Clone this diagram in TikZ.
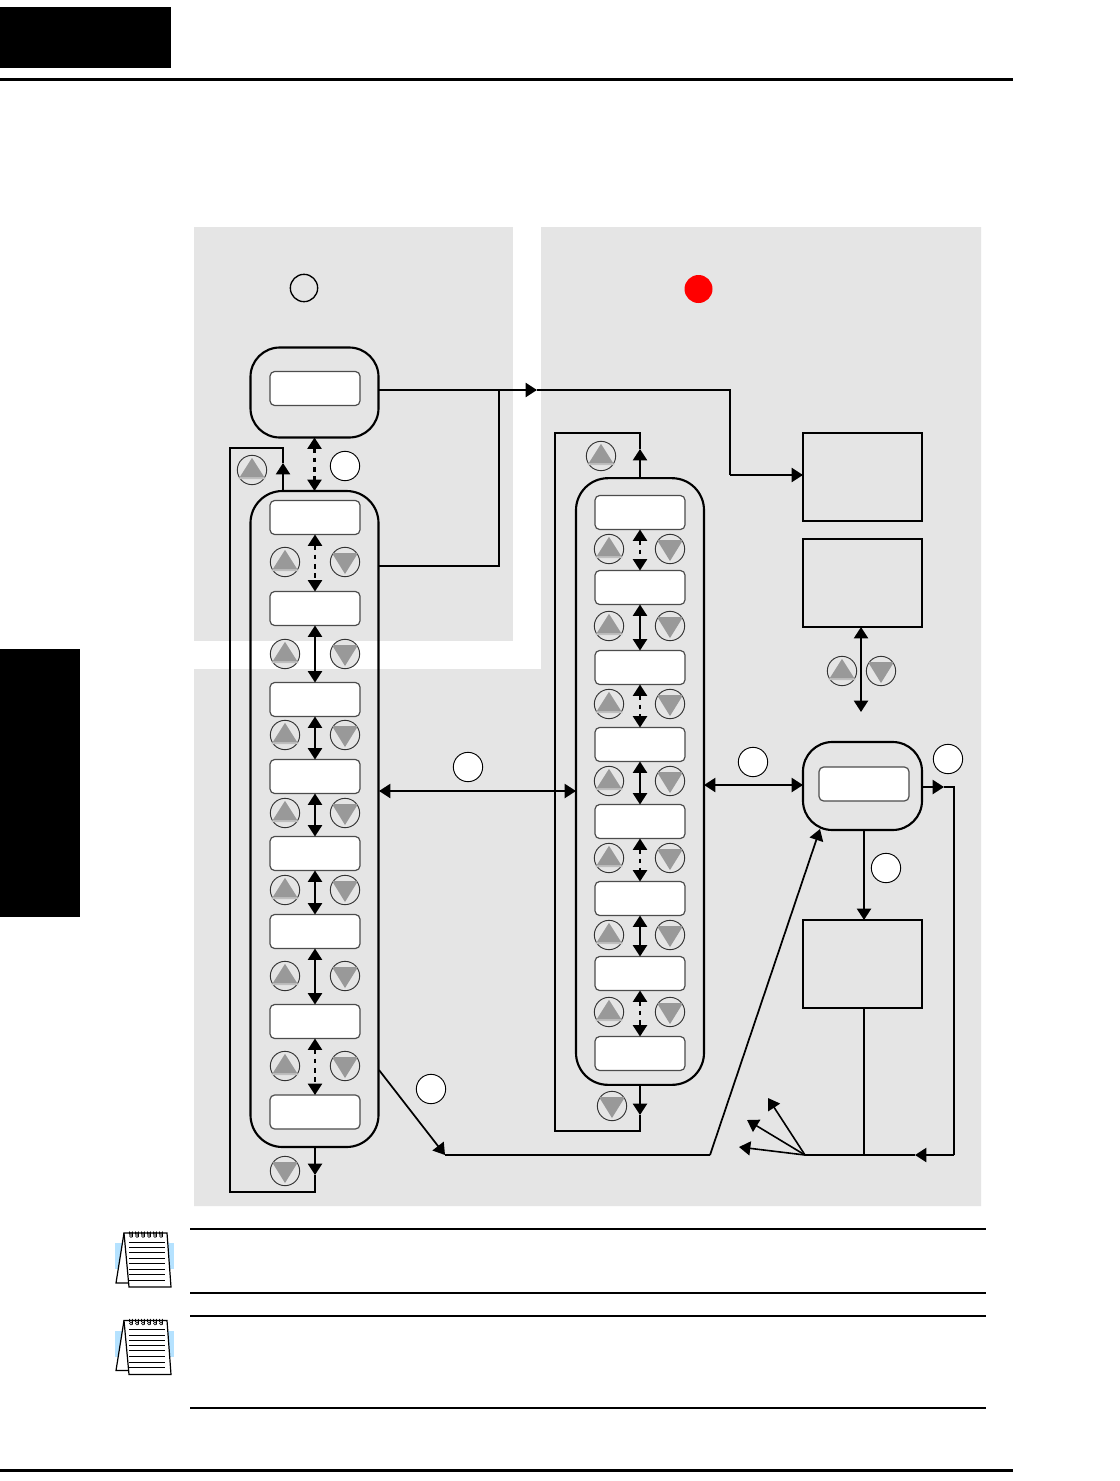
\documentclass[tikz,border=0pt]{standalone}
\usetikzlibrary{arrows.meta,calc}
\definecolor{panelgray}{HTML}{E5E5E5}
\definecolor{trigray}{HTML}{999999}
\definecolor{noteblue}{HTML}{B5E2FF}
\tikzset{
  x=0.75pt,y=-0.75pt,
  ln/.style={line width=1.6pt,line cap=butt,line join=miter},
  tip/.style={ln,-{Triangle[length=8.5pt,width=10.5pt]}},
  dbl/.style={ln,{Triangle[length=8.5pt,width=10.5pt]}-{Triangle[length=8.5pt,width=10.5pt]}},
  dbldash/.style={dbl,dash pattern=on 3.5pt off 3.5pt},
  disp/.style={draw=black!70,line width=0.9pt,fill=white,rounded corners=3.5pt,minimum width=67.5pt,minimum height=25.5pt,inner sep=0pt,outer sep=0pt},
  unitbox/.style={draw=black,line width=1.6pt,rounded corners=22pt,minimum width=96pt,minimum height=67.5pt,inner sep=0pt,outer sep=0pt},
  listbox/.style={draw=black,line width=1.6pt,rounded corners=24pt,minimum width=96pt,inner sep=0pt,outer sep=0pt},
  plainbox/.style={draw=black,line width=1.6pt,minimum width=89.25pt,minimum height=66pt,inner sep=0pt,outer sep=0pt},
  btn/.style={circle,draw=black!80,line width=0.7pt,fill=panelgray,minimum size=22pt,inner sep=0pt,outer sep=0pt},
  tag/.style={circle,draw=black,line width=0.7pt,fill=white,minimum size=22pt,inner sep=0pt,outer sep=0pt},
  notepage/.pic={
    \fill[noteblue] (115,1243) rectangle (174,1269);
    \fill[white] (127,1233) rectangle (168,1287);
    \draw[line width=0.9pt,fill=white] (124,1233) -- (116,1283) -- (129,1283);
    \draw[line width=0.9pt,fill=white] (124,1233) -- (167,1233) -- (171,1287) -- (129,1287) -- cycle;
    \foreach \yy in {1242,1247.5,1252.5,1258,1263,1269,1274.5,1280}
      \draw[line width=0.6pt] (129,\yy) -- (165,\yy);
    \foreach \xx in {131,137,143,149,155,161}{
      \draw[line width=0.5pt] (\xx,1236) circle[radius=1.5];
      \draw[line width=0.5pt] (\xx+1.5,1237) -- (\xx+1.5,1232) arc[start angle=0,end angle=180,radius=1.5] -- (\xx-1.5,1234.5);
    }
  }
}
\newcommand{\upbtn}[3]{%
  \node[btn] (#1) at (#2,#3) {};
  \fill[black!25] ($(#2,#3)+(0,-12)$) -- ($(#2,#3)+(-13.5,9)$) -- ($(#2,#3)+(13.5,9)$) -- cycle;
  \fill[trigray] ($(#2,#3)+(0,-12)$) -- ($(#2,#3)+(-12,7)$) -- ($(#2,#3)+(12,7)$) -- cycle;
}
\newcommand{\dnbtn}[3]{%
  \node[btn] (#1) at (#2,#3) {};
  \fill[trigray] ($(#2,#3)+(0,12)$) -- ($(#2,#3)+(-13,-9)$) -- ($(#2,#3)+(13,-9)$) -- cycle;
}
\begin{document}
\begin{tikzpicture}
\useasboundingbox (0,0) rectangle (1120,1481);
\fill[white] (0,0) rectangle (1120,1481);
% page furniture
\fill[black] (0,7) rectangle (171,68);
\fill[black] (0,649) rectangle (80,917);
\draw[line width=2.2pt] (0,79.5) -- (1013,79.5);
\draw[line width=2.2pt] (0,1470.5) -- (1013,1470.5);
% grey regions
\fill[panelgray] (194,227) rectangle (513,641);
\fill[panelgray] (541,227) -- (981,227) -- (981,1206) -- (194,1206) -- (194,669) -- (541,669) -- cycle;
% status circles
\node[circle,draw=black,line width=1pt,fill=panelgray,minimum size=20.5pt,inner sep=0pt] (stop) at (304,288) {};
\node[circle,fill=red,minimum size=21pt,inner sep=0pt] (run) at (698.5,289) {};
% left column
\node[unitbox] (topunit) at (314.5,392.5) {};
\node[disp] (topdisp) at (315,388.5) {};
\node[listbox,minimum height=492pt] (leftlist) at (314.5,819) {};
\foreach \n/\yy in {1/517.5,2/608.5,3/699.5,4/776.5,5/853.5,6/931.5,7/1021.5,8/1112}
  \node[disp] (L\n) at (315,\yy) {};
\upbtn{Lu1}{285}{562}\dnbtn{Ld1}{345}{562}
\upbtn{Lu2}{285}{654}\dnbtn{Ld2}{345}{654}
\upbtn{Lu3}{285}{735}\dnbtn{Ld3}{345}{735}
\upbtn{Lu4}{285}{813}\dnbtn{Ld4}{345}{813}
\upbtn{Lu5}{285}{890}\dnbtn{Ld5}{345}{890}
\upbtn{Lu6}{285}{976}\dnbtn{Ld6}{345}{976}
\upbtn{Lu7}{285}{1066}\dnbtn{Ld7}{345}{1066}
\draw[dbldash] (topunit.south) -- (leftlist.north);
\draw[dbldash] (L1) -- (L2);
\draw[dbl] (L2) -- (L3);
\draw[dbl] (L3) -- (L4);
\draw[dbl] (L4) -- (L5);
\draw[dbl] (L5) -- (L6);
\draw[dbl] (L6) -- (L7);
\draw[dbldash] (L7) -- (L8);
% left loop
\upbtn{Lloopu}{252}{470}
\dnbtn{Lloopd}{285}{1171}
\coordinate (lA) at (283,491);
\coordinate (lB) at (283,463);
\coordinate (lC) at (315,1147);
\coordinate (lD) at (315,1175);
\draw[tip] (lA) -- (lB);
\draw[ln] (lB) -- (283,448) -- (230,448) -- (230,1192) -- (315,1192) -- (lD);
\draw[tip] (lC) -- (lD);
% middle column
\node[listbox,minimum height=455pt] (midlist) at (640,781.5) {};
\foreach \n/\yy in {1/512.5,2/587.5,3/667.5,4/744.5,5/821.5,6/898.5,7/973.5,8/1053.5}
  \node[disp] (M\n) at (640,\yy) {};
\upbtn{Mu1}{609}{549}\dnbtn{Md1}{670}{549}
\upbtn{Mu2}{609}{626}\dnbtn{Md2}{670}{626}
\upbtn{Mu3}{609}{704}\dnbtn{Md3}{670}{704}
\upbtn{Mu4}{609}{781}\dnbtn{Md4}{670}{781}
\upbtn{Mu5}{609}{858}\dnbtn{Md5}{670}{858}
\upbtn{Mu6}{609}{935}\dnbtn{Md6}{670}{935}
\upbtn{Mu7}{609}{1012}\dnbtn{Md7}{670}{1012}
\draw[dbldash] (M1) -- (M2);
\draw[dbl] (M2) -- (M3);
\draw[dbldash] (M3) -- (M4);
\draw[dbl] (M4) -- (M5);
\draw[dbldash] (M5) -- (M6);
\draw[dbl] (M6) -- (M7);
\draw[dbldash] (M7) -- (M8);
% middle loop
\upbtn{Mloopu}{601}{456}
\dnbtn{Mloopd}{612}{1106}
\coordinate (mA) at (640,478);
\coordinate (mB) at (640,449);
\coordinate (mC) at (640,1085);
\coordinate (mD) at (640,1115);
\draw[tip] (mA) -- (mB);
\draw[ln] (mB) -- (640,433) -- (555,433) -- (555,1131) -- (640,1131) -- (mD);
\draw[tip] (mC) -- (mD);
% right column
\node[plainbox] (boxA) at (862.5,477) {};
\node[plainbox] (boxB) at (862.5,583) {};
\node[plainbox] (boxC) at (862.5,964) {};
\node[unitbox,minimum width=89.25pt,minimum height=66pt] (func) at (862.5,786) {};
\node[disp] (funcdisp) at (864,784) {};
\upbtn{Ru}{842}{671}\dnbtn{Rd}{881}{671}
\coordinate (bBs) at (861,627);
\coordinate (rEnd) at (861,712);
\draw[dbl] (bBs) -- (rEnd);
% connectors
\coordinate (j1) at (499,390);
\coordinate (a1) at (537,390);
\coordinate (t1) at (379,390);
\coordinate (t2) at (379,566);
\coordinate (t3) at (730,475);
\draw[tip] (t1) -- (a1);
\draw[ln] (a1) -- (730,390) -- (t3);
\draw[tip] (t3) -- (boxA.west |- t3);
\draw[ln] (t2) -- (499,566) -- (j1);
\coordinate (w1) at (379,791);
\coordinate (w2) at (576,791);
\draw[dbl] (w1) -- (w2);
\coordinate (w3) at (704,785);
\coordinate (w4) at (803,785);
\draw[dbl] (w3) -- (w4);
\coordinate (p1) at (379,1070);
\coordinate (p2) at (445,1155);
\coordinate (p3) at (710,1155);
\coordinate (p4) at (820,829);
\draw[tip,line width=1.3pt] (p1) -- (p2);
\draw[ln] (p2) -- (p3);
\draw[tip,line width=1.3pt] (p3) -- (p4);
\coordinate (f1) at (922,787);
\coordinate (f2) at (944,787);
\coordinate (f3) at (915,1155);
\coordinate (f4) at (954,1155);
\coordinate (hub) at (805,1155);
\coordinate (fs) at (864,830);
\coordinate (cn) at (864,920);
\coordinate (cs) at (864,1008);
\coordinate (cb) at (864,1155);
\draw[tip] (f1) -- (f2);
\draw[ln] (f2) -- (954,787) -- (f4);
\draw[tip] (f4) -- (f3);
\draw[ln] (f3) -- (hub);
\draw[tip] (fs) -- (cn);
\draw[ln] (cs) -- (cb);
\coordinate (h1) at (768,1098);
\coordinate (h2) at (747,1120);
\coordinate (h3) at (739,1147);
\draw[tip,line width=1.2pt] (hub) -- (h1);
\draw[tip,line width=1.2pt] (hub) -- (h2);
\draw[tip,line width=1.2pt] (hub) -- (h3);
% number tags
\node[tag] (t-a) at (345,466) {};
\node[tag] (t-b) at (468,767) {};
\node[tag] (t-c) at (753,762) {};
\node[tag] (t-d) at (948,759) {};
\node[tag] (t-e) at (886,868) {};
\node[tag] (t-f) at (431,1089) {};
% notes
\draw[line width=1.5pt] (190,1229) -- (986,1229);
\draw[line width=1.5pt] (190,1293) -- (986,1293);
\draw[line width=1.5pt] (190,1316) -- (986,1316);
\draw[line width=1.5pt] (190,1408) -- (986,1408);
\pic at (0,0) {notepage};
\pic at (0,87.5) {notepage};
\end{tikzpicture}
\end{document}
